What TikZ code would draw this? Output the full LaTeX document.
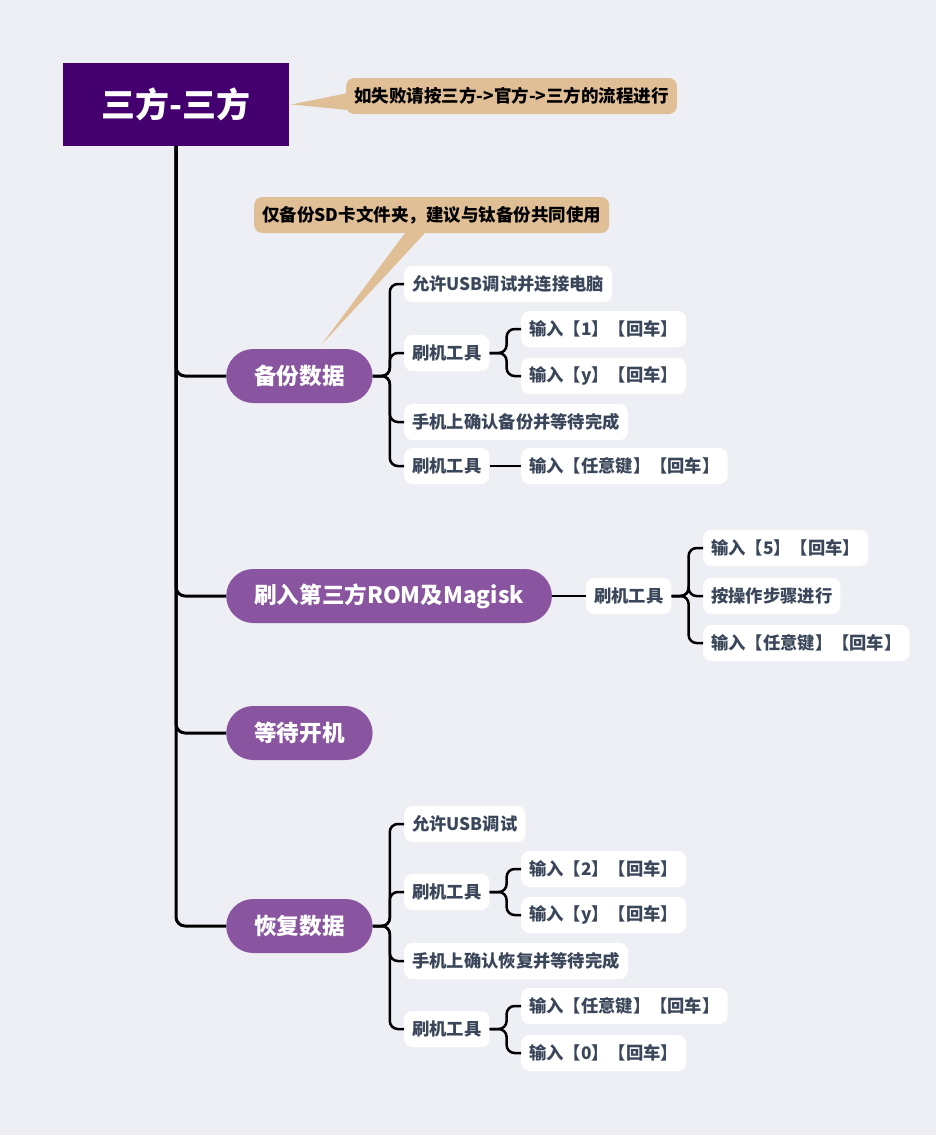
\documentclass[tikz,border=0pt]{standalone}
\usepackage{fontspec}
\setmainfont{Noto Sans CJK SC}
\definecolor{bgcol}{RGB}{238,239,245}
\definecolor{rootcol}{RGB}{68,0,110}
\definecolor{topiccol}{RGB}{138,85,160}
\definecolor{notecol}{RGB}{224,190,150}
\definecolor{leafcol}{RGB}{58,70,89}

\begin{document}
\begin{tikzpicture}[x=1pt,y=-1pt,
    trunk/.style={line width=3pt, rounded corners=9pt},
    branch/.style={line width=2.5pt, rounded corners=8pt},
    rootbox/.style={fill=rootcol, text=white, font=\bfseries\fontsize{34}{37}\selectfont, minimum width=226pt, minimum height=83pt, inner sep=0pt},
    topic/.style={fill=topiccol, text=white, rounded corners=27pt, minimum height=54pt, inner xsep=28pt, font=\bfseries\fontsize{22.6}{25}\selectfont, anchor=west},
    leaf/.style={fill=white, text=leafcol, rounded corners=8pt, minimum height=36pt, inner xsep=8pt, font=\bfseries\fontsize{17.3}{19}\selectfont, anchor=west},
    note/.style={fill=notecol, text=black, rounded corners=8pt, minimum height=36pt, inner xsep=8pt, font=\bfseries\fontsize{17.5}{19}\selectfont, anchor=west}]
    \fill[bgcol] (0,0) rectangle (936,1135);
    \useasboundingbox (0,0) rectangle (936,1135);

    % root and main topics
    \node[rootbox] (root) at (176,104.5) {三方-三方};
    \node[topic] (m1) at (226,376) {备份数据};
    \node[topic] (m2) at (226,596) {刷入第三方ROM及Magisk};
    \node[topic] (m3) at (226,733) {等待开机};
    \node[topic] (m4) at (226,926) {恢复数据};

    % 备份数据
    \node[leaf] (a1) at (404,284) {允许USB调试并连接电脑};
    \node[leaf] (a2) at (404,353) {刷机工具};
    \node[leaf] (a3) at (404,422) {手机上确认备份并等待完成};
    \node[leaf] (a4) at (404,466) {刷机工具};
    \node[leaf] (a21) at (521,329) {输入【1】【回车】};
    \node[leaf] (a22) at (521,376) {输入【y】【回车】};
    \node[leaf] (a41) at (521,466) {输入【任意键】【回车】};

    % 刷入
    \node[leaf] (r0) at (586,596) {刷机工具};
    \node[leaf] (r1) at (703,548) {输入【5】【回车】};
    \node[leaf] (r2) at (703,596) {按操作步骤进行};
    \node[leaf] (r3) at (703,643) {输入【任意键】【回车】};

    % 恢复数据
    \node[leaf] (b1) at (404,824) {允许USB调试};
    \node[leaf] (b2) at (404,892) {刷机工具};
    \node[leaf] (b3) at (404,961) {手机上确认恢复并等待完成};
    \node[leaf] (b4) at (404,1029) {刷机工具};
    \node[leaf] (b21) at (521,869) {输入【2】【回车】};
    \node[leaf] (b22) at (521,915) {输入【y】【回车】};
    \node[leaf] (b41) at (521,1006) {输入【任意键】【回车】};
    \node[leaf] (b42) at (521,1053) {输入【0】【回车】};

    % connectors
    \foreach \m in {m1,m2,m3,m4} {\draw[trunk] (root.south) |- (\m.west);}
    \foreach \l in {a1,a2,a3,a4} {\draw[branch] (m1.east) -- ++(17,0) |- (\l.west);}
    \foreach \l in {a21,a22} {\draw[branch] (a2.east) -- ++(17,0) |- (\l.west);}
    \draw[branch] (a4.east) -- (a41.west);
    \draw[branch] (m2.east) -- (r0.west);
    \foreach \l in {r1,r2,r3} {\draw[branch] (r0.east) -- ++(17,0) |- (\l.west);}
    \foreach \l in {b1,b2,b3,b4} {\draw[branch] (m4.east) -- ++(17,0) |- (\l.west);}
    \foreach \l in {b21,b22} {\draw[branch] (b2.east) -- ++(17,0) |- (\l.west);}
    \foreach \l in {b41,b42} {\draw[branch] (b4.east) -- ++(17,0) |- (\l.west);}

    % notes
    \node[note] (n1) at (346,96) {如失败请按三方->官方->三方的流程进行};
    \node[note] (n2) at (254,215) {仅备份SD卡文件夹，建议与钛备份共同使用};
    \fill[notecol] ([xshift=2pt]root.east) -- ([xshift=2pt,yshift=3pt]n1.west) -- ([xshift=2pt,yshift=-14pt]n1.west) -- cycle;
    \fill[notecol] ([xshift=-26pt,yshift=1pt]n2.south) -- ([xshift=-6pt,yshift=1pt]n2.south) -- ([xshift=22pt,yshift=4pt]m1.north) -- cycle;
\end{tikzpicture}
\end{document}
